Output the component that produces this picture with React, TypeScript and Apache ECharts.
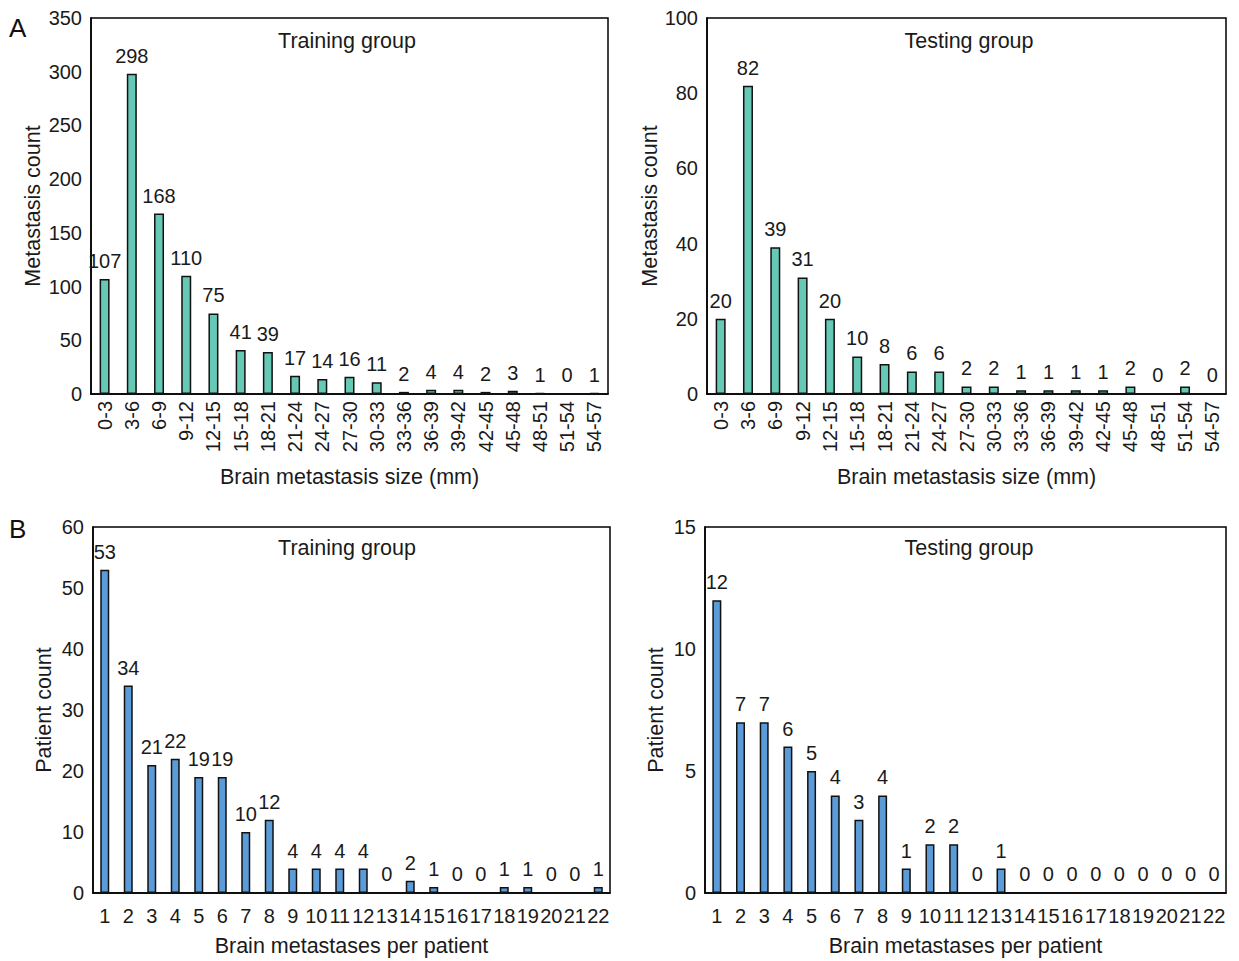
import React, { useEffect, useRef } from "react";
import * as echarts from "echarts";

const sizeCats = ["0-3","3-6","6-9","9-12","12-15","15-18","18-21","21-24","24-27","27-30","30-33","33-36","36-39","39-42","42-45","45-48","48-51","51-54","54-57"];
const trainSize = [107,298,168,110,75,41,39,17,14,16,11,2,4,4,2,3,1,0,1];
const testSize = [20,82,39,31,20,10,8,6,6,2,2,1,1,1,1,2,0,2,0];
const perCats = ["1","2","3","4","5","6","7","8","9","10","11","12","13","14","15","16","17","18","19","20","21","22"];
const trainPer = [53,34,21,22,19,19,10,12,4,4,4,4,0,2,1,0,0,1,1,0,0,1];
const testPer = [12,7,7,6,5,4,3,4,1,2,2,0,1,0,0,0,0,0,0,0,0,0];

const FONT = "Liberation Sans, Arial, sans-serif";
const TEAL = "#66C9B5";
const BLUE = "#5B9BD7";
const TXT = "#1a1a1a";

export default function App() {
  const ref = useRef<HTMLDivElement>(null);
  useEffect(() => {
    document.body.style.margin = "0";
    const chart = echarts.init(ref.current!, null, { renderer: "svg" });
    const grids = [
      { left: 91, top: 18, width: 517, height: 376 },
      { left: 707, top: 18, width: 519, height: 376 },
      { left: 93, top: 527, width: 517, height: 366 },
      { left: 705, top: 527, width: 521, height: 366 },
    ];
    const yCfg = [
      { max: 350, interval: 50, name: "Metastasis count", gap: 47 },
      { max: 100, interval: 20, name: "Metastasis count", gap: 46 },
      { max: 60, interval: 10, name: "Patient count", gap: 38 },
      { max: 15, interval: 5, name: "Patient count", gap: 38 },
    ];
    const cats = [sizeCats, sizeCats, perCats, perCats];
    const datas = [trainSize, testSize, trainPer, testPer];
    const colors = [TEAL, TEAL, BLUE, BLUE];
    const xNames = ["Brain metastasis size (mm)", "Brain metastasis size (mm)", "Brain metastases per patient", "Brain metastases per patient"];
    const option: any = {
      animation: false,
      backgroundColor: "#fff",
      textStyle: { fontFamily: FONT },
      grid: grids.map((g) => ({ ...g, show: true, borderColor: "#000", borderWidth: 1.5, backgroundColor: "transparent", containLabel: false })),
      xAxis: grids.map((g, i) => ({
        type: "category",
        gridIndex: i,
        data: cats[i],
        name: xNames[i],
        nameLocation: "middle",
        nameGap: i < 2 ? 72 : 42,
        nameTextStyle: { fontSize: 21.5, color: TXT, fontFamily: FONT },
        axisLine: { lineStyle: { color: "#000", width: 1.5 } },
        axisTick: { show: false },
        axisLabel: {
          interval: 0,
          rotate: i < 2 ? 90 : 0,
          fontSize: 20,
          color: TXT,
          margin: i < 2 ? 7 : 13,
          fontFamily: FONT,
        },
      })),
      yAxis: grids.map((g, i) => ({
        type: "value",
        gridIndex: i,
        min: 0,
        max: yCfg[i].max,
        interval: yCfg[i].interval,
        name: yCfg[i].name,
        nameLocation: "middle",
        nameGap: yCfg[i].gap,
        nameTextStyle: { fontSize: 21.5, color: TXT, fontFamily: FONT },
        axisLine: { show: true, lineStyle: { color: "#000", width: 1.5 } },
        axisTick: { show: false },
        splitLine: { show: false },
        axisLabel: { fontSize: 20, color: TXT, margin: 9, fontFamily: FONT },
      })),
      series: datas.map((d, i) => ({
        type: "bar",
        xAxisIndex: i,
        yAxisIndex: i,
        data: d,
        barWidth: i < 2 ? 10 : 9,
        itemStyle: { color: colors[i], borderColor: "#111", borderWidth: 1.5 },
        label: { show: true, position: "top", distance: 8, fontSize: 20, color: TXT, fontFamily: FONT },
      })),
      graphic: [
        { type: "text", left: 9, top: 15, style: { text: "A", fontSize: 26, fill: "#111", fontFamily: FONT } },
        { type: "text", left: 9, top: 516, style: { text: "B", fontSize: 26, fill: "#111", fontFamily: FONT } },
        { type: "text", x: 347, y: 41, style: { text: "Training group", fontSize: 21.5, fill: TXT, fontFamily: FONT, align: "center", verticalAlign: "middle" } },
        { type: "text", x: 969, y: 41, style: { text: "Testing group", fontSize: 21.5, fill: TXT, fontFamily: FONT, align: "center", verticalAlign: "middle" } },
        { type: "text", x: 347, y: 548, style: { text: "Training group", fontSize: 21.5, fill: TXT, fontFamily: FONT, align: "center", verticalAlign: "middle" } },
        { type: "text", x: 969, y: 548, style: { text: "Testing group", fontSize: 21.5, fill: TXT, fontFamily: FONT, align: "center", verticalAlign: "middle" } },
      ],
    };
    chart.setOption(option);
    return () => chart.dispose();
  }, []);
  return <div ref={ref} style={{ width: 1239, height: 961 }} />;
}
